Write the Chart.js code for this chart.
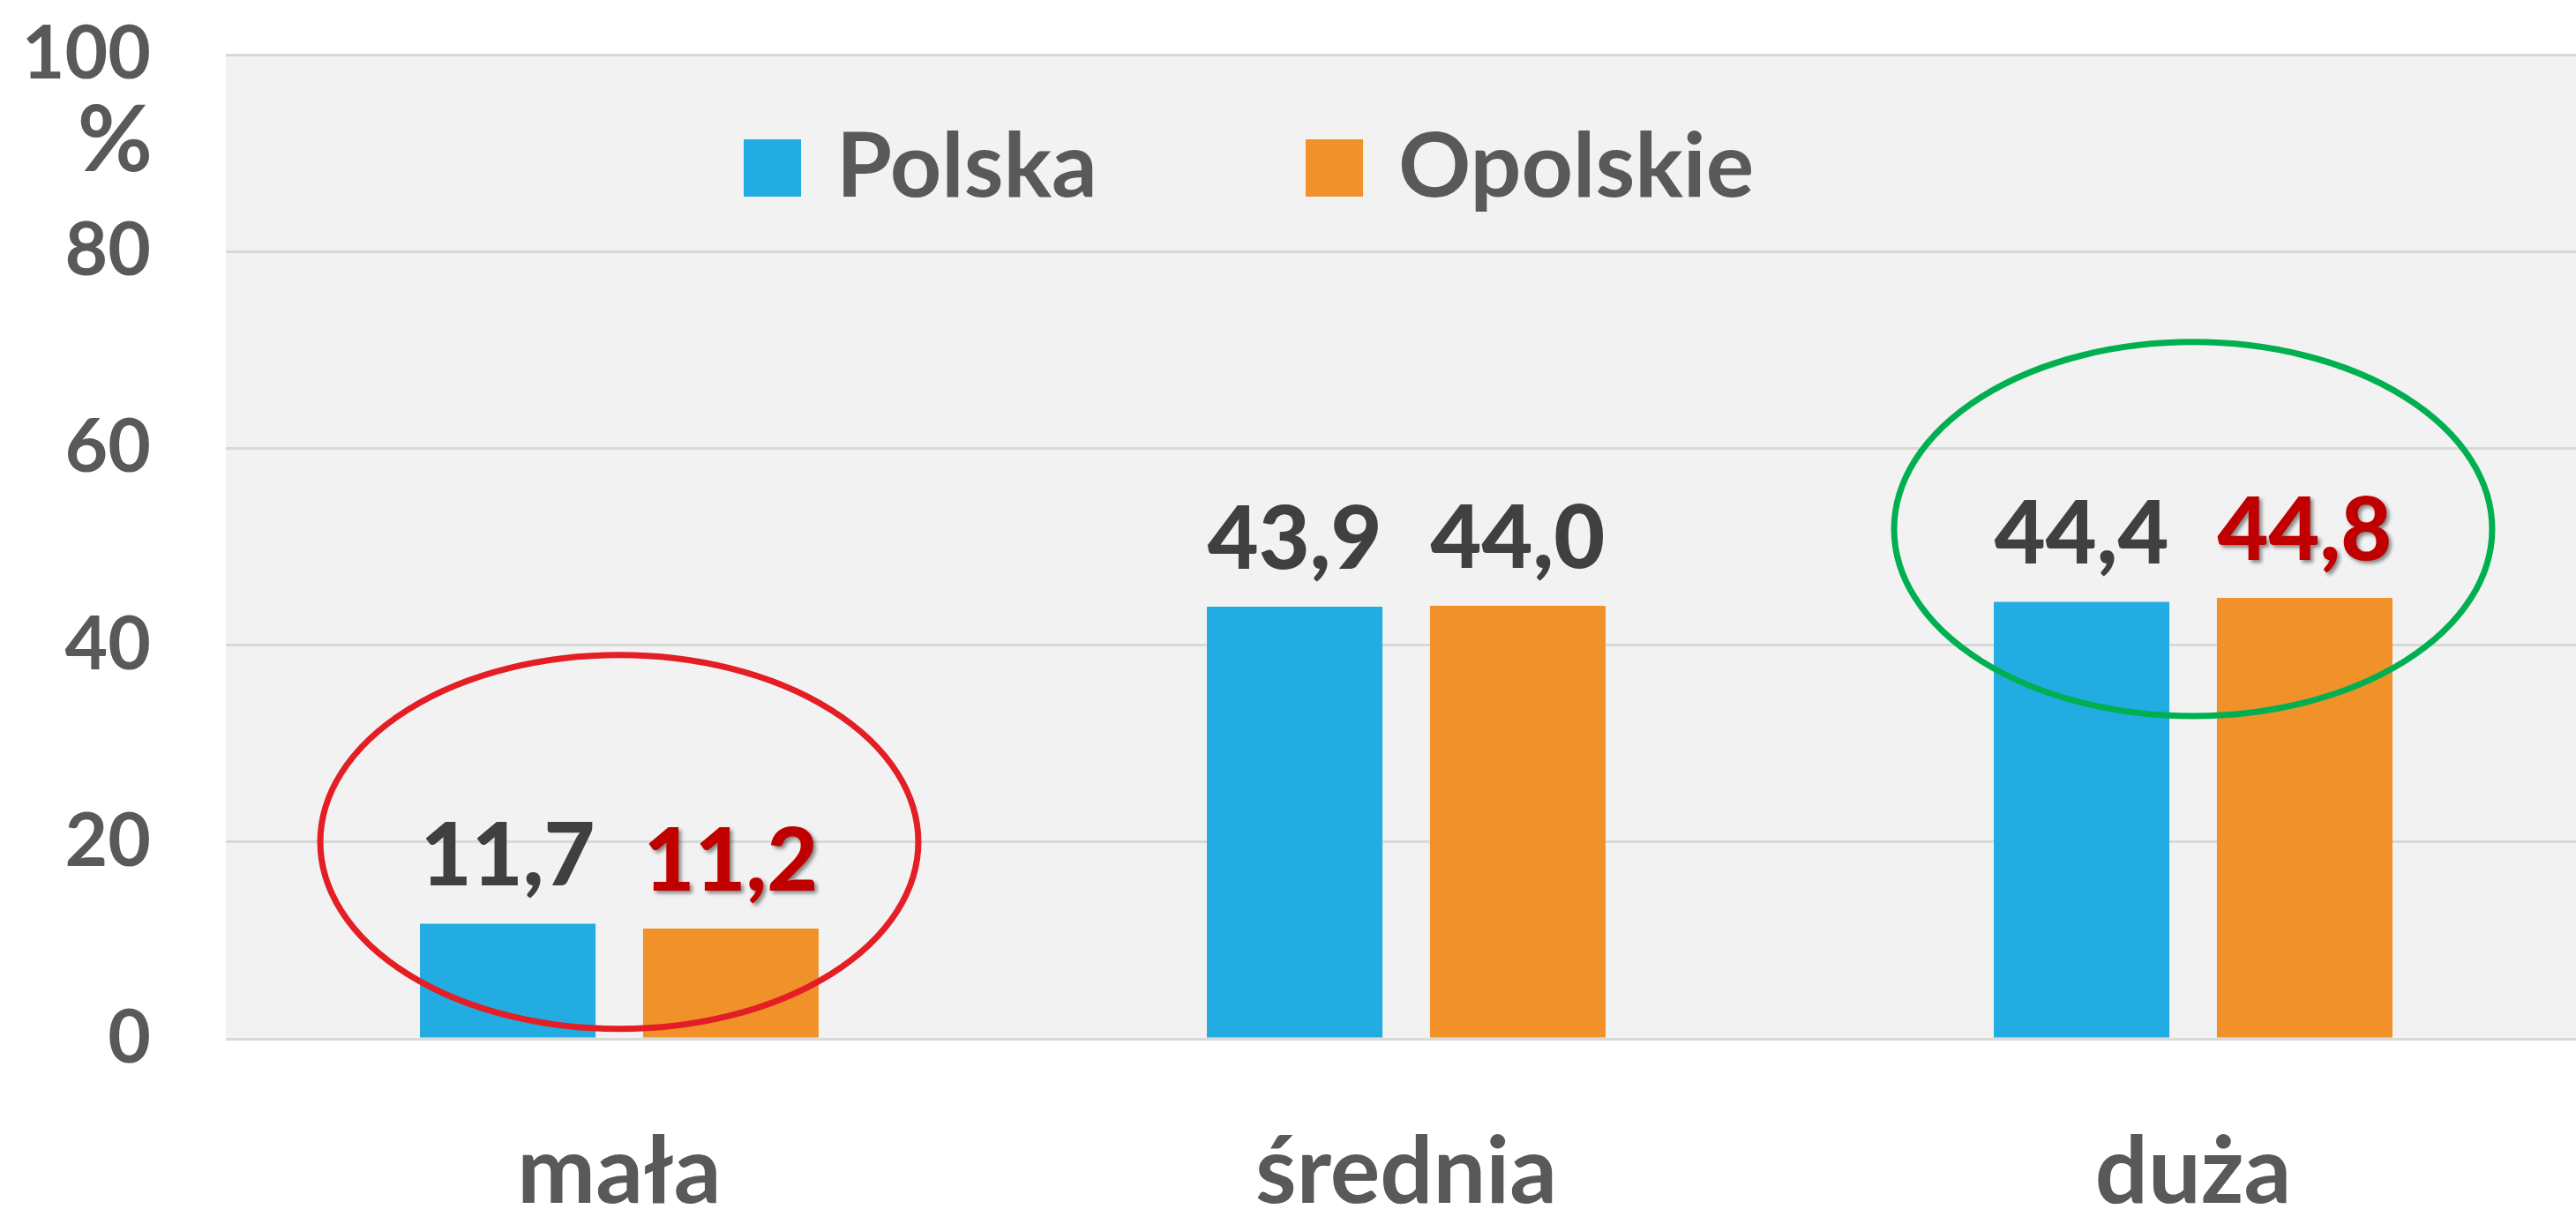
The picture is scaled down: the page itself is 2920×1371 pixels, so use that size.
<!DOCTYPE html>
<html>
<head>
<meta charset="utf-8">
<script src="https://cdn.jsdelivr.net/npm/chart.js@4.4.0/dist/chart.umd.min.js"></script>
<style>
    html, body { margin: 0; padding: 0; background: #fff; overflow: hidden; }
    canvas { display: block; }
</style>
</head>
<body>
<canvas id="chart" width="2936" height="1371" style="width:2936px;height:1371px"></canvas>
<script>
// dane z wykresu
const categories = ['mała', 'średnia', 'duża'];
const polska = [11.7, 43.9, 44.4];
const opolskie = [11.2, 44.0, 44.8];
const yTicks = [0, 20, 40, 60, 80, 100];
const seriesNames = ['Polska', 'Opolskie'];

// kolory etykiet wartości (czerwone = wyróżnione)
const polskaLabelColors = ['#404040', '#404040', '#404040'];
const opolskieLabelColors = ['#c00000', '#404040', '#c00000'];

// elipsy: indeks kategorii, środek w jednostkach osi Y
const highlights = [
    { index: 0, value: 20, color: '#e31e24' },
    { index: 2, value: 51.8, color: '#00b050' }
];

const FONT = 'Lato, "Open Sans", sans-serif';
const fmt = v => v.toFixed(1).replace('.', ',');

// szare tło obszaru wykresu
const plotBg = {
    id: 'plotBg',
    beforeDraw(chart) {
        const { ctx, chartArea: a } = chart;
        ctx.save();
        ctx.fillStyle = '#f2f2f2';
        ctx.fillRect(a.left, a.top, a.right - a.left, a.bottom - a.top);
        ctx.restore();
    }
};

// wartości nad słupkami
const valueLabels = {
    id: 'valueLabels',
    afterDatasetsDraw(chart) {
        const ctx = chart.ctx;
        const colorSets = [polskaLabelColors, opolskieLabelColors];
        chart.data.datasets.forEach((ds, di) => {
            const meta = chart.getDatasetMeta(di);
            meta.data.forEach((bar, i) => {
                const color = colorSets[di][i];
                ctx.save();
                ctx.font = '900 100px ' + FONT;
                ctx.textAlign = 'center';
                ctx.textBaseline = 'alphabetic';
                if (color === '#c00000') {
                    ctx.shadowColor = 'rgba(0,0,0,0.45)';
                    ctx.shadowOffsetX = 3;
                    ctx.shadowOffsetY = 3;
                    ctx.shadowBlur = 4;
                }
                ctx.fillStyle = color;
                ctx.fillText(fmt(ds.data[i]), bar.x, bar.y - 43);
                ctx.restore();
            });
        });
    }
};

// elipsy wyróżniające
const ellipses = {
    id: 'ellipses',
    afterDatasetsDraw(chart) {
        const { ctx, scales: { x, y } } = chart;
        const catWidth = (x.right - x.left) / categories.length;
        highlights.forEach(h => {
            const cx = x.getPixelForValue(h.index);
            const cy = y.getPixelForValue(h.value);
            const rx = catWidth * 0.38;
            const ry = y.getPixelForValue(0) - y.getPixelForValue(19);
            ctx.save();
            ctx.strokeStyle = h.color;
            ctx.lineWidth = 7;
            ctx.beginPath();
            ctx.ellipse(cx, cy, rx, ry, 0, 0, Math.PI * 2);
            ctx.stroke();
            ctx.restore();
        });
    }
};

// legenda w obszarze wykresu + znak %
const extras = {
    id: 'extras',
    afterDraw(chart) {
        const { ctx, scales: { y } } = chart;
        ctx.save();
        ctx.fillStyle = '#595959';
        ctx.font = 'bold 104px ' + FONT;
        ctx.textAlign = 'right';
        ctx.textBaseline = 'middle';
        ctx.fillText('%', y.right - 83, y.getPixelForValue(91.2));

        const starts = [843, 1480];
        chart.data.datasets.forEach((ds, i) => {
            ctx.fillStyle = ds.backgroundColor;
            ctx.fillRect(starts[i], 158, 65, 65);
            ctx.fillStyle = '#595959';
            ctx.font = 'bold 102px ' + FONT;
            ctx.textAlign = 'left';
            ctx.textBaseline = 'alphabetic';
            ctx.fillText(ds.label, starts[i] + 105, 223);
        });
        ctx.restore();
    }
};

const ctx = document.getElementById('chart').getContext('2d');
new Chart(ctx, {
    type: 'bar',
    data: {
        labels: categories,
        datasets: [
            { label: seriesNames[0], data: polska, backgroundColor: '#22ace2' },
            { label: seriesNames[1], data: opolskie, backgroundColor: '#f0912a' }
        ]
    },
    options: {
        responsive: false,
        animation: false,
        layout: { padding: { top: 62, right: 4, bottom: 0, left: 0 } },
        datasets: {
            bar: { categoryPercentage: 0.567, barPercentage: 0.787 }
        },
        plugins: {
            legend: { display: false },
            tooltip: { enabled: false }
        },
        scales: {
            x: {
                offset: true,
                grid: { display: false, drawTicks: false },
                border: { display: false },
                ticks: {
                    color: '#595959',
                    padding: 88,
                    font: { family: FONT, size: 106, weight: 'bold', lineHeight: 1.2 }
                },
                afterFit(s) { s.height = 193; }
            },
            y: {
                min: 0,
                max: 100,
                afterBuildTicks(s) { s.ticks = yTicks.map(v => ({ value: v })); },
                grid: { color: '#d9d9d9', lineWidth: 3, drawTicks: false },
                border: { display: false },
                ticks: {
                    color: '#595959',
                    padding: 85,
                    font: { family: FONT, size: 84, weight: 'bold' },
                    callback: v => String(v)
                },
                afterFit(s) {
                    s.width = 256;
                    s.paddingTop = 0;
                    s.paddingBottom = 0;
                }
            }
        }
    },
    plugins: [plotBg, valueLabels, ellipses, extras]
});
</script>
</body>
</html>
